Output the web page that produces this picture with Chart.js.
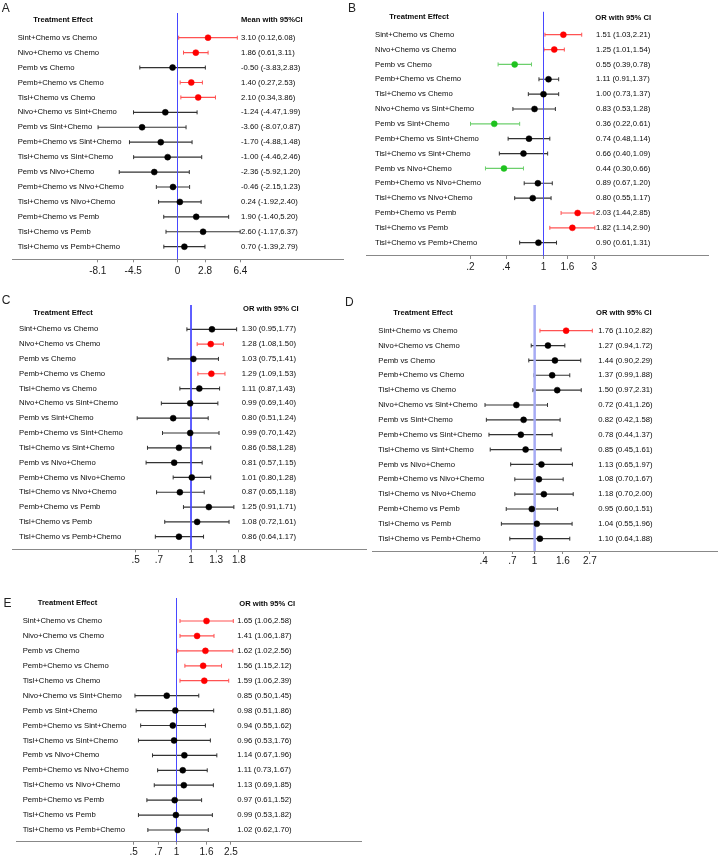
<!DOCTYPE html>
<html>
<head>
<meta charset="utf-8">
<script src="https://cdn.jsdelivr.net/npm/chart.js@4.4.1/dist/chart.umd.min.js"></script>
<style>
html,body{margin:0;padding:0;background:#fff;overflow:hidden;}
#wrap{position:relative;width:722px;height:858px;overflow:hidden;background:#fff;}
#wrap canvas{position:absolute;left:0;top:0;}
.lt{position:absolute;font-family:"Liberation Sans",Arial,sans-serif;font-size:12px;line-height:12px;color:#222;}
</style>
</head>
<body>
<div id="wrap">
  <canvas id="cA" width="722" height="900"></canvas>
  <canvas id="cB" width="722" height="900"></canvas>
  <canvas id="cC" width="722" height="900"></canvas>
  <canvas id="cD" width="722" height="900"></canvas>
  <canvas id="cE" width="722" height="900"></canvas>
  <div class="lt" style="left:1.7px;top:1.5px">A</div>
  <div class="lt" style="left:348px;top:1.5px">B</div>
  <div class="lt" style="left:1.7px;top:293.8px">C</div>
  <div class="lt" style="left:345px;top:295.8px">D</div>
  <div class="lt" style="left:3.5px;top:597.2px">E</div>
</div>
<script>
// ---------- DATA ----------
const categories = [
  "Sint+Chemo vs Chemo","Nivo+Chemo vs Chemo","Pemb vs Chemo","Pemb+Chemo vs Chemo",
  "Tisl+Chemo vs Chemo","Nivo+Chemo vs Sint+Chemo","Pemb vs Sint+Chemo","Pemb+Chemo vs Sint+Chemo",
  "Tisl+Chemo vs Sint+Chemo","Pemb vs Nivo+Chemo","Pemb+Chemo vs Nivo+Chemo","Tisl+Chemo vs Nivo+Chemo",
  "Pemb+Chemo vs Pemb","Tisl+Chemo vs Pemb","Tisl+Chemo vs Pemb+Chemo"
];

// Panel A: Mean with 95% CI
const estA = [3.10, 1.86, -0.50, 1.40, 2.10, -1.24, -3.60, -1.70, -1.00, -2.36, -0.46, 0.24, 1.90, 2.60, 0.70];
const loA  = [0.12, 0.61, -3.83, 0.27, 0.34, -4.47, -8.07, -4.88, -4.46, -5.92, -2.15, -1.92, -1.40, -1.17, -1.39];
const hiA  = [6.08, 3.11, 2.83, 2.53, 3.86, 1.99, 0.87, 1.48, 2.46, 1.20, 1.23, 2.40, 5.20, 6.37, 2.79];
const tickValsA = [-8.1, -4.5, 0, 2.8, 6.4];
const tickLabsA = ["-8.1", "-4.5", "0", "2.8", "6.4"];

// Panel B: OR with 95% CI
const estB = [1.51, 1.25, 0.55, 1.11, 1.00, 0.83, 0.36, 0.74, 0.66, 0.44, 0.89, 0.80, 2.03, 1.82, 0.90];
const loB  = [1.03, 1.01, 0.39, 0.91, 0.73, 0.53, 0.22, 0.48, 0.40, 0.30, 0.67, 0.55, 1.44, 1.14, 0.61];
const hiB  = [2.21, 1.54, 0.78, 1.37, 1.37, 1.28, 0.61, 1.14, 1.09, 0.66, 1.20, 1.17, 2.85, 2.90, 1.31];
const tickValsB = [0.22, 0.46, 1, 1.64, 2.87];
const tickLabsB = [".2", ".4", "1", "1.6", "3"];

// Panel C: OR with 95% CI
const estC = [1.30, 1.28, 1.03, 1.29, 1.11, 0.99, 0.80, 0.99, 0.86, 0.81, 1.01, 0.87, 1.25, 1.08, 0.86];
const loC  = [0.95, 1.08, 0.75, 1.09, 0.87, 0.69, 0.51, 0.70, 0.58, 0.57, 0.80, 0.65, 0.91, 0.72, 0.64];
const hiC  = [1.77, 1.50, 1.41, 1.53, 1.43, 1.40, 1.24, 1.42, 1.28, 1.15, 1.28, 1.18, 1.71, 1.61, 1.17];
const tickValsC = [0.50, 0.67, 1, 1.37, 1.82];
const tickLabsC = [".5", ".7", "1", "1.3", "1.8"];

// Panel D: OR with 95% CI
const estD = [1.76, 1.27, 1.44, 1.37, 1.50, 0.72, 0.82, 0.78, 0.85, 1.13, 1.08, 1.18, 0.95, 1.04, 1.10];
const loD  = [1.10, 0.94, 0.90, 0.99, 0.97, 0.41, 0.42, 0.44, 0.45, 0.65, 0.70, 0.70, 0.60, 0.55, 0.64];
const hiD  = [2.82, 1.72, 2.29, 1.88, 2.31, 1.26, 1.58, 1.37, 1.61, 1.97, 1.67, 2.00, 1.51, 1.96, 1.88];
const tickValsD = [0.40, 0.67, 1, 1.66, 2.70];
const tickLabsD = [".4", ".7", "1", "1.6", "2.7"];

// Panel E: OR with 95% CI
const estE = [1.65, 1.41, 1.62, 1.56, 1.59, 0.85, 0.98, 0.94, 0.96, 1.14, 1.11, 1.13, 0.97, 0.99, 1.02];
const loE  = [1.06, 1.06, 1.02, 1.15, 1.06, 0.50, 0.51, 0.55, 0.53, 0.67, 0.73, 0.69, 0.61, 0.53, 0.62];
const hiE  = [2.58, 1.87, 2.56, 2.12, 2.39, 1.45, 1.86, 1.62, 1.76, 1.96, 1.67, 1.85, 1.52, 1.82, 1.70];
const tickValsE = [0.49, 0.74, 1, 1.65, 2.48];
const tickLabsE = [".5", ".7", "1", "1.6", "2.5"];

// ---------- LAYOUT / STYLE ----------
const FONT = '"Liberation Sans", Arial, sans-serif';
const TONES = {
  red:   {line: '#ff5252', dot: '#ff0000'},
  green: {line: '#6ccf6c', dot: '#1fc21f'},
  black: {line: '#333333', dot: '#000000'}
};

const panels = [
  {id:'cA', scaleType:'linear', est:estA, lo:loA, hi:hiA, ref:0, tv:tickValsA, tl:tickLabsA,
   axL:12.7, axR:343, top:13, axY:259.3, r1:37.7, r15:246.7, xPx:9.84, xRef:177.5, tickPad:3.4,
   labX:17.7, valX:241, hdrX:33.3, hdrY:20, hdr2:'Mean with 95%CI', hdr2X:241, hdr2Y:20,
   refColor:'#4848ff', refWidth:1},
  {id:'cB', scaleType:'logarithmic', est:estB, lo:loB, hi:hiB, ref:1, tv:tickValsB, tl:tickLabsB,
   axL:366, axR:708.7, top:11.7, axY:256, r1:34.7, r15:242.7, xPx:111, xRef:543.5, tickPad:1.8,
   labX:375, valX:596, hdrX:389.3, hdrY:16.7, hdr2:'OR with 95% CI', hdr2X:595.3, hdr2Y:18.3,
   refColor:'#4848ff', refWidth:1},
  {id:'cC', scaleType:'logarithmic', est:estC, lo:loC, hi:hiC, ref:1, tv:tickValsC, tl:tickLabsC,
   axL:12.7, axR:366, top:305, axY:549.3, r1:329.3, r15:536.7, xPx:184, xRef:191, tickPad:2.4,
   labX:19, valX:241.7, hdrX:33.3, hdrY:312.7, hdr2:'OR with 95% CI', hdr2X:243, hdr2Y:309,
   refColor:'#4848ff', refWidth:1},
  {id:'cD', scaleType:'logarithmic', est:estD, lo:loD, hi:hiD, ref:1, tv:tickValsD, tl:tickLabsD,
   axL:372.7, axR:722, top:305, axY:551, r1:330.7, r15:538.7, xPx:130, xRef:537, tickPad:1.4,
   labX:378.3, valX:598.3, hdrX:393.3, hdrY:312.7, hdr2:'OR with 95% CI', hdr2X:596, hdr2Y:312.7,
   refColor:'#a6abf4', refWidth:2.5},
  {id:'cE', scaleType:'logarithmic', est:estE, lo:loE, hi:hiE, ref:1, tv:tickValsE, tl:tickLabsE,
   axL:16.7, axR:361, top:598, axY:841.7, r1:621, r15:830, xPx:138, xRef:176.5, tickPad:2,
   labX:22.7, valX:237.3, hdrX:37.7, hdrY:602.7, hdr2:'OR with 95% CI', hdr2X:239.3, hdr2Y:604.3,
   refColor:'#4848ff', refWidth:1}
];

const TICK_FONT = 10, TICK_LEN = 3, CANVAS_W = 722, CANVAS_H = 900;
const fmt = v => v.toFixed(2);

function textPlugin(p) {
  return {
    id: 'forestText_' + p.id,
    afterDraw(chart) {
      const ctx = chart.ctx, ys = chart.scales.y;
      ctx.save();
      ctx.fillStyle = '#0a0a0a';
      ctx.textAlign = 'left';
      ctx.textBaseline = 'middle';
      ctx.font = 'bold 7.6px ' + FONT;
      ctx.fillText('Treatment Effect', p.hdrX, p.hdrY);
      ctx.fillText(p.hdr2, p.hdr2X, p.hdr2Y);
      ctx.font = '7.7px ' + FONT;
      categories.forEach((c, i) => {
        const y = ys.getPixelForValue(i + 1);
        ctx.fillText(c, p.labX, y);
        ctx.fillText(fmt(p.est[i]) + ' (' + fmt(p.lo[i]) + ',' + fmt(p.hi[i]) + ')', p.valX, y);
      });
      ctx.restore();
    }
  };
}

function buildChart(p) {
  const n = categories.length;
  const s = (p.r15 - p.r1) / (n - 1);
  const yMin = 1 - (p.r1 - p.top) / s;
  const yMax = n + (p.axY - p.r15) / s;
  const isLog = p.scaleType === 'logarithmic';
  const xMin = isLog ? Math.pow(10, (p.axL - p.xRef) / p.xPx) : p.ref + (p.axL - p.xRef) / p.xPx;
  const xMax = isLog ? Math.pow(10, (p.axR - p.xRef) / p.xPx) : p.ref + (p.axR - p.xRef) / p.xPx;
  const axisH = TICK_LEN + TICK_FONT * 1.2 + 2 * p.tickPad;

  const tone = i => p.lo[i] > p.ref ? 'red' : (p.hi[i] < p.ref ? 'green' : 'black');
  const dotColors = p.est.map((v, i) => TONES[tone(i)].dot);

  const datasets = [];
  datasets.push({
    label: 'estimate',
    data: p.est.map((v, i) => ({x: v, y: i + 1})),
    showLine: false,
    pointStyle: 'circle',
    pointRadius: 3,
    pointBackgroundColor: dotColors,
    pointBorderColor: dotColors,
    pointBorderWidth: 0.5
  });
  datasets.push({
    label: 'reference',
    data: [{x: p.ref, y: yMin}, {x: p.ref, y: yMax}],
    showLine: true,
    borderColor: p.refColor,
    borderWidth: p.refWidth,
    pointRadius: 0
  });
  p.est.forEach((v, i) => {
    const c = TONES[tone(i)].line;
    datasets.push({
      label: categories[i],
      data: [{x: p.lo[i], y: i + 1}, {x: p.hi[i], y: i + 1}],
      showLine: true,
      borderColor: c,
      borderWidth: 1.2,
      pointStyle: 'line',
      pointRotation: 90,
      pointRadius: 2,
      pointBorderColor: c,
      pointBorderWidth: 1
    });
  });

  new Chart(document.getElementById(p.id), {
    type: 'scatter',
    data: {datasets},
    options: {
      responsive: false,
      animation: false,
      events: [],
      layout: {padding: {left: p.axL, right: CANVAS_W - p.axR, top: p.top, bottom: CANVAS_H - p.axY - axisH}},
      plugins: {legend: {display: false}, tooltip: {enabled: false}},
      scales: {
        x: {
          type: p.scaleType,
          min: xMin, max: xMax,
          bounds: 'data',
          afterBuildTicks: sc => { sc.ticks = p.tv.map(v => ({value: v})); },
          grid: {display: true, drawOnChartArea: false, drawTicks: true, tickLength: TICK_LEN, color: '#888888', lineWidth: 1},
          border: {display: true, color: '#888888', width: 1},
          ticks: {
            autoSkip: false, maxRotation: 0, minRotation: 0,
            padding: p.tickPad, color: '#1a1a1a',
            font: {family: FONT, size: TICK_FONT},
            callback: (val, idx) => p.tl[idx]
          }
        },
        y: {
          type: 'linear', reverse: true, min: yMin, max: yMax,
          display: false
        }
      }
    },
    plugins: [textPlugin(p)]
  });
}

panels.forEach(buildChart);
</script>
</body>
</html>
